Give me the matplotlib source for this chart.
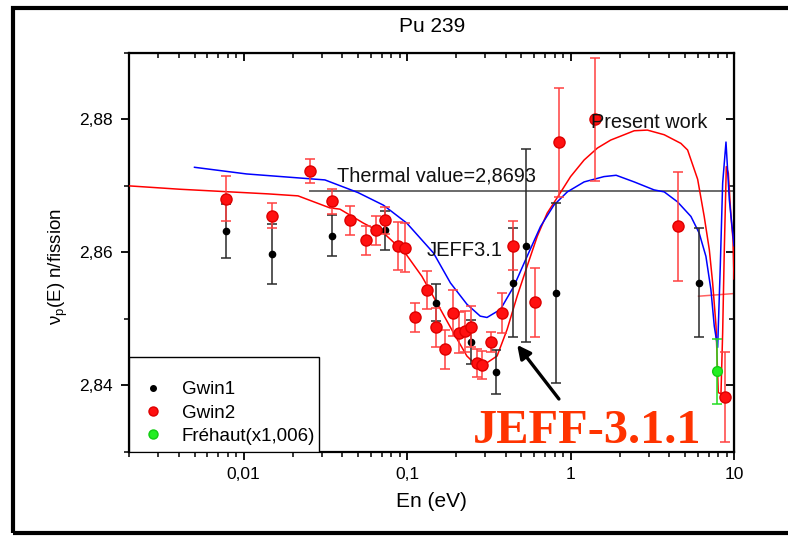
import matplotlib
matplotlib.use("Agg")
import matplotlib.pyplot as plt
from matplotlib.lines import Line2D
from matplotlib.patches import Rectangle
from matplotlib.ticker import MultipleLocator, LogLocator, NullFormatter

plt.rcParams['font.family'] = ['Liberation Sans', 'DejaVu Sans']

# Gwin1 (black points)
gwin1_e = [0.00776, 0.0149, 0.0348, 0.0733, 0.151, 0.247, 0.352, 0.445, 0.535, 0.809, 6.07]
gwin1_v = [2.8632, 2.8598, 2.8625, 2.8633, 2.8524, 2.8465, 2.8420, 2.8554, 2.8610, 2.8539, 2.8554]
gwin1_err = [0.0041, 0.0045, 0.0031, 0.0029, 0.0028, 0.0033, 0.0033, 0.0082, 0.0145, 0.0135, 0.0082]

# Gwin2 (red points)
gwin2_e = [0.00776, 0.0149, 0.0254, 0.0348, 0.0447, 0.0558, 0.0643, 0.0733, 0.0885, 0.0973,
           0.111, 0.133, 0.151, 0.171, 0.190, 0.207, 0.227, 0.247, 0.268, 0.287,
           0.327, 0.381, 0.445, 0.604, 0.847, 1.42, 4.55, 8.81]
gwin2_v = [2.8681, 2.8655, 2.8722, 2.8677, 2.8648, 2.8618, 2.8633, 2.8648, 2.8610, 2.8607,
           2.8502, 2.8543, 2.8487, 2.8454, 2.8509, 2.8479, 2.8481, 2.8488, 2.8434, 2.8431,
           2.8465, 2.8509, 2.8610, 2.8525, 2.8766, 2.8800, 2.8639, 2.8382]
gwin2_err = [0.0034, 0.0019, 0.0018, 0.0019, 0.0022, 0.0022, 0.0022, 0.0021, 0.0036, 0.0037,
             0.0022, 0.0029, 0.0029, 0.0029, 0.0035, 0.0031, 0.0031, 0.0031, 0.0021, 0.0021,
             0.0015, 0.0030, 0.0037, 0.0052, 0.0082, 0.0093, 0.0082, 0.0068]

# Frehaut (green point)
frehaut_e = [7.87]
frehaut_v = [2.8421]
frehaut_err = [0.0049]

# Present work (red curve)
present_e = [0.002, 0.00405, 0.0141, 0.0215, 0.0336, 0.0388, 0.054, 0.0733, 0.0973, 0.123,
             0.152, 0.192, 0.232, 0.268, 0.28, 0.355, 0.409, 0.471, 0.542, 0.625,
             0.719, 0.847, 1.0, 1.21, 1.46, 1.76, 2.03, 2.45, 2.95, 3.74,
             4.73, 5.20, 5.99, 6.57, 7.06, 7.40, 7.76, 8.01, 8.32, 8.52,
             8.72, 8.97, 9.23, 9.58, 9.86, 10.0]
present_v = [2.8700, 2.8695, 2.8688, 2.8685, 2.8667, 2.8665, 2.8644, 2.8627, 2.8599, 2.8564,
             2.8524, 2.8479, 2.8444, 2.8429, 2.8427, 2.8444, 2.8484, 2.8534, 2.8579, 2.8624,
             2.8659, 2.8686, 2.8714, 2.8739, 2.8757, 2.8769, 2.8775, 2.8783, 2.8784, 2.8777,
             2.8764, 2.8754, 2.8710, 2.8654, 2.8604, 2.8554, 2.8489, 2.8389, 2.8387, 2.8479,
             2.8604, 2.8729, 2.8719, 2.8654, 2.8619, 2.8560]

# JEFF3.1 (blue curve)
jeff_e = [0.005, 0.0104, 0.0314, 0.05, 0.0716, 0.0995, 0.145, 0.184, 0.232, 0.28,
          0.308, 0.372, 0.45, 0.542, 0.655, 0.79, 0.955, 1.21, 1.6, 1.9,
          2.45, 3.24, 3.74, 4.51, 5.45, 6.12, 6.73, 7.22, 7.57, 7.94,
          8.24, 8.52, 8.93, 9.36, 9.82, 10.0]
jeff_v = [2.8728, 2.8718, 2.8709, 2.8690, 2.8671, 2.8644, 2.8599, 2.8554, 2.8522, 2.8504,
          2.8502, 2.8514, 2.8549, 2.8594, 2.8639, 2.8671, 2.8691, 2.8706, 2.8714, 2.8716,
          2.8706, 2.8694, 2.8691, 2.8676, 2.8654, 2.8629, 2.8594, 2.8544, 2.8489, 2.8457,
          2.8579, 2.8704, 2.8766, 2.8679, 2.8629, 2.8610]

# thermal value line and small red stub at the right
thermal_e = [0.0253, 10.0]
thermal_v = [2.8693, 2.8693]
stub_e = [6.07, 10.0]
stub_v = [2.8534, 2.8538]

xtick_vals = [0.01, 0.1, 1, 10]
xtick_labels = ['0,01', '0,1', '1', '10']
ytick_vals = [2.84, 2.86, 2.88]
ytick_labels = ['2,84', '2,86', '2,88']

fig = plt.figure(figsize=(7.88, 5.36), dpi=100)
ax = fig.add_axes([0.1643, 0.1573, 0.7672, 0.7438])
ax.set_xscale('log')

# outer black frame (right side is cut off in the original)
fig.patches.append(Rectangle((0.0165, 0.0055), 1.2, 0.9805, transform=fig.transFigure,
                             fill=False, edgecolor='black', linewidth=3, clip_on=False))

ax.plot(thermal_e, thermal_v, color='#6a6a6a', lw=1.4, zorder=2)
ax.plot(present_e, present_v, color='#ff0000', lw=1.1, zorder=3)
ax.plot(jeff_e, jeff_v, color='#0000ff', lw=1.1, zorder=3)
ax.plot(stub_e, stub_v, color='#ff6060', lw=1.1, zorder=2)

ax.errorbar(gwin1_e, gwin1_v, yerr=gwin1_err, fmt='o', color='black', ecolor='#2a2a2a',
            ms=4.5, elinewidth=1.1, capsize=3.6, capthick=1.1, zorder=4)
ax.errorbar(gwin2_e, gwin2_v, yerr=gwin2_err, fmt='o', mfc='#ff1010', mec='#dd0000',
            ecolor='#ff4040', ms=8, elinewidth=1.1, capsize=3.6, capthick=1.1, zorder=5)
ax.errorbar(frehaut_e, frehaut_v, yerr=frehaut_err, fmt='o', mfc='#22ee22', mec='#11cc11',
            ecolor='#22dd22', ms=7, elinewidth=1.1, capsize=3.6, capthick=1.1, zorder=6)

ax.set_xlim(0.002, 10)
ax.set_ylim(2.83, 2.89)

ax.set_xticks(xtick_vals)
ax.set_xticklabels(xtick_labels)
ax.xaxis.set_minor_locator(LogLocator(base=10, subs=range(2, 10), numticks=20))
ax.xaxis.set_minor_formatter(NullFormatter())
ax.set_yticks(ytick_vals)
ax.set_yticklabels(ytick_labels)
ax.yaxis.set_minor_locator(MultipleLocator(0.01))

ax.tick_params(which='major', direction='out', length=6, width=1.3, labelsize=12.5, pad=5)
ax.tick_params(axis='y', which='major', pad=6)
ax.tick_params(which='minor', direction='out', length=3.5, width=1.1)
for sp in ax.spines.values():
    sp.set_linewidth(1.6)

# inward ticks on top and right
secx = ax.secondary_xaxis('top')
secx.set_xticks(xtick_vals)
secx.xaxis.set_minor_locator(LogLocator(base=10, subs=range(2, 10), numticks=20))
secx.tick_params(which='major', direction='in', length=6, width=1.3, labeltop=False)
secx.tick_params(which='minor', direction='in', length=3.5, width=1.1)
secx.xaxis.set_minor_formatter(NullFormatter())
secy = ax.secondary_yaxis('right')
secy.set_yticks(ytick_vals)
secy.yaxis.set_minor_locator(MultipleLocator(0.01))
secy.tick_params(which='major', direction='in', length=6, width=1.3, labelright=False)
secy.tick_params(which='minor', direction='in', length=3.5, width=1.1)

ax.set_title('Pu 239', fontsize=15, y=1.052, va='baseline', pad=0)
ax.set_xlabel('En (eV)', fontsize=15)
ax.xaxis.set_label_coords(0.5, -0.1)
ax.set_ylabel(r'$\mathregular{ν_p}$(E) n/fission', fontsize=13.5)
ax.yaxis.set_label_coords(-0.098, 0.4645)

ax.text(0.0372, 2.8706, 'Thermal value=2,8693', fontsize=14.3, color='#111111', zorder=7)
ax.text(0.132, 2.8594, 'JEFF3.1', fontsize=14.5, color='#111111', zorder=7)
ax.text(1.34, 2.8787, 'Present work', fontsize=14.3, color='#111111', zorder=7)
ax.text(0.254, 2.8313, 'JEFF-3.1.1', fontsize=34.8, fontweight='bold', color='#ff3300',
        family=['Liberation Serif', 'DejaVu Serif'], zorder=7)
ax.annotate('', xy=(0.46, 2.8464), xytext=(0.869, 2.8376),
            arrowprops=dict(arrowstyle='-|>', color='black', lw=2.4, mutation_scale=20),
            zorder=7)

# legend box
ax.add_patch(Rectangle((0, 0), 0.3135, 0.2383, transform=ax.transAxes, facecolor='white',
                       edgecolor='black', lw=1.0, zorder=8))
handles = [Line2D([], [], ls='none', marker='o', color='black', ms=4),
           Line2D([], [], ls='none', marker='o', mfc='#ff1010', mec='#dd0000', ms=6.5),
           Line2D([], [], ls='none', marker='o', mfc='#22ee22', mec='#11cc11', ms=6.5)]
leg = ax.legend(handles, ['Gwin1', 'Gwin2', 'Fréhaut(x1,006)'], loc='center left',
                bbox_to_anchor=(0.0256, 0.097), frameon=False, borderpad=0, borderaxespad=0,
                handlelength=0.9, handletextpad=1.05, labelspacing=0.32, fontsize=13.5)
leg.set_zorder(9)

fig.savefig('out.png', dpi=100)
